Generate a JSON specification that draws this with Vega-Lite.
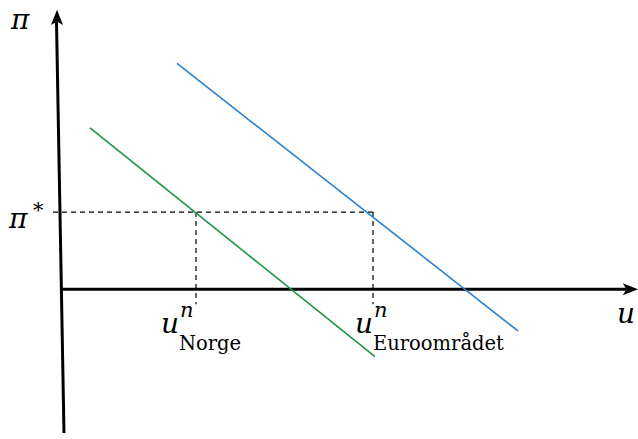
{
  "$schema": "https://vega.github.io/schema/vega-lite/v6.json",
  "width": 638,
  "height": 439,
  "padding": 0,
  "autosize": {"type": "fit", "contains": "padding"},
  "background": "white",
  "config": {"view": {"stroke": null}},
  "datasets": {
    "segments": [
      {"seg": "uaxis", "step": 0, "u": 0, "pi": 0},
      {"seg": "uaxis", "step": 1, "u": 56.5, "pi": 0},
      {"seg": "piaxis", "step": 0, "u": -0.45, "pi": 27.0},
      {"seg": "piaxis", "step": 1, "u": 0.3, "pi": -14.5},
      {"seg": "norge", "step": 0, "u": 2.9, "pi": 16.3},
      {"seg": "norge", "step": 1, "u": 31.4, "pi": -6.8},
      {"seg": "euro", "step": 0, "u": 11.6, "pi": 22.8},
      {"seg": "euro", "step": 1, "u": 45.7, "pi": -4.2},
      {"seg": "target", "step": 0, "u": -0.8, "pi": 7.8},
      {"seg": "target", "step": 1, "u": 31.2, "pi": 7.8},
      {"seg": "un_norge", "step": 0, "u": 13.5, "pi": 7.8},
      {"seg": "un_norge", "step": 1, "u": 13.5, "pi": -1.5},
      {"seg": "un_euro", "step": 0, "u": 31.2, "pi": 7.8},
      {"seg": "un_euro", "step": 1, "u": 31.2, "pi": -1.5}
    ],
    "symbols": [
      {"text": "π", "u": -5.0, "pi": 26.3},
      {"text": "π", "u": -5.2, "pi": 6.2},
      {"text": "u", "u": 55.6, "pi": -3.4},
      {"text": "u", "u": 10.0, "pi": -4.4},
      {"text": "u", "u": 29.4, "pi": -4.4}
    ],
    "supers": [
      {"text": "*", "u": -2.8, "pi": 7.3},
      {"text": "n", "u": 11.9, "pi": -2.8},
      {"text": "n", "u": 31.3, "pi": -2.8}
    ],
    "subs": [
      {"text": "Norge", "u": 11.8, "pi": -6.1},
      {"text": "Euroområdet", "u": 31.2, "pi": -6.1}
    ],
    "arrows": [
      {"dir": "up", "u": -0.4, "pi": 27.4},
      {"dir": "right", "u": 56.9, "pi": 0}
    ]
  },
  "encoding": {
    "x": {"field": "u", "type": "quantitative", "axis": null,
          "scale": {"domain": [-6.1, 57.7], "nice": false, "zero": false}},
    "y": {"field": "pi", "type": "quantitative", "axis": null,
          "scale": {"domain": [-14.7, 29.2], "nice": false, "zero": false}}
  },
  "layer": [
    {
      "data": {"name": "segments"},
      "transform": [{"filter": "datum.seg === 'uaxis' || datum.seg === 'piaxis'"}],
      "mark": {"type": "line", "color": "black", "strokeWidth": 3},
      "encoding": {"detail": {"field": "seg"}, "order": {"field": "step"}}
    },
    {
      "data": {"name": "segments"},
      "transform": [{"filter": "datum.seg === 'target' || datum.seg === 'un_norge' || datum.seg === 'un_euro'"}],
      "mark": {"type": "line", "color": "black", "strokeWidth": 1.2, "strokeDash": [5, 4]},
      "encoding": {"detail": {"field": "seg"}, "order": {"field": "step"}}
    },
    {
      "data": {"name": "segments"},
      "transform": [{"filter": "datum.seg === 'norge'"}],
      "mark": {"type": "line", "color": "#1e9448", "strokeWidth": 1.6},
      "encoding": {"order": {"field": "step"}}
    },
    {
      "data": {"name": "segments"},
      "transform": [{"filter": "datum.seg === 'euro'"}],
      "mark": {"type": "line", "color": "#2b80d2", "strokeWidth": 1.6},
      "encoding": {"order": {"field": "step"}}
    },
    {
      "data": {"name": "arrows"},
      "transform": [{"filter": "datum.dir === 'up'"}],
      "mark": {"type": "point", "filled": true, "color": "black", "opacity": 1, "size": 256,
               "shape": "M0,-1 L0.75,0.9 L0,0.45 L-0.75,0.9 Z"}
    },
    {
      "data": {"name": "arrows"},
      "transform": [{"filter": "datum.dir === 'right'"}],
      "mark": {"type": "point", "filled": true, "color": "black", "opacity": 1, "size": 256,
               "shape": "M1,0 L-0.9,-0.75 L-0.45,0 L-0.9,0.75 Z"}
    },
    {
      "data": {"name": "symbols"},
      "mark": {"type": "text", "font": "DejaVu Serif", "fontStyle": "italic", "fontSize": 28,
               "align": "left", "baseline": "alphabetic", "color": "black"},
      "encoding": {"text": {"field": "text"}}
    },
    {
      "data": {"name": "supers"},
      "mark": {"type": "text", "font": "DejaVu Serif", "fontStyle": "italic", "fontSize": 21,
               "align": "left", "baseline": "alphabetic", "color": "black"},
      "encoding": {"text": {"field": "text"}}
    },
    {
      "data": {"name": "subs"},
      "mark": {"type": "text", "font": "DejaVu Serif", "fontSize": 19.5,
               "align": "left", "baseline": "alphabetic", "color": "black"},
      "encoding": {"text": {"field": "text"}}
    }
  ]
}
